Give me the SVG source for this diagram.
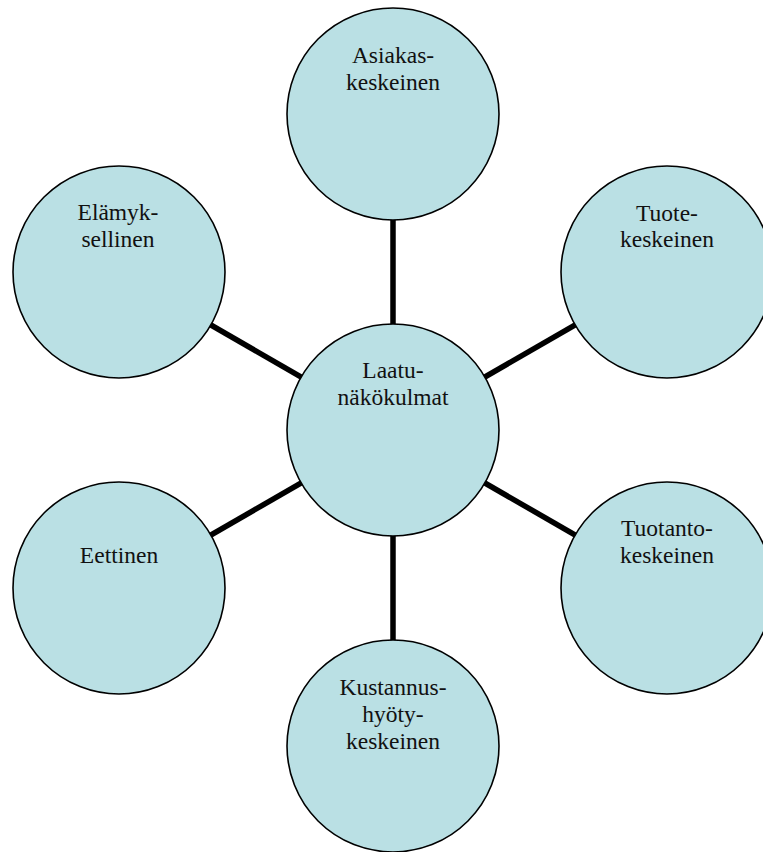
<svg xmlns="http://www.w3.org/2000/svg" width="763" height="852" viewBox="0 0 763 852">
<style>
.n circle{fill:#BAE0E4;stroke:#000;stroke-width:1.6}
.n text{font-family:"Liberation Serif","Times New Roman",serif;font-size:23.5px;fill:#111;text-anchor:middle}
.c line{stroke:#000;stroke-width:5.5}
</style>
<rect width="763" height="852" fill="#fff"/>
<g id="connectors" class="c">
<line x1="393" y1="430" x2="393" y2="114"/>
<line x1="393" y1="430" x2="667" y2="272"/>
<line x1="393" y1="430" x2="667" y2="588"/>
<line x1="393" y1="430" x2="393" y2="746"/>
<line x1="393" y1="430" x2="119" y2="588"/>
<line x1="393" y1="430" x2="119" y2="272"/>
</g>
<g id="center" class="n"><circle cx="393" cy="430" r="106"/><text x="393" y="378">Laatu-</text><text x="393" y="405">näkökulmat</text></g>
<g id="asiakas" class="n"><circle cx="393" cy="114" r="106"/><text x="393" y="63">Asiakas-</text><text x="393" y="90">keskeinen</text></g>
<g id="tuote" class="n"><circle cx="667" cy="272" r="106"/><text x="667" y="221">Tuote-</text><text x="667" y="247">keskeinen</text></g>
<g id="tuotanto" class="n"><circle cx="667" cy="588" r="106"/><text x="667" y="536">Tuotanto-</text><text x="667" y="563">keskeinen</text></g>
<g id="kustannus" class="n"><circle cx="393" cy="746" r="106"/><text x="393" y="695">Kustannus-</text><text x="393" y="722">hyöty-</text><text x="393" y="749">keskeinen</text></g>
<g id="eettinen" class="n"><circle cx="119" cy="588" r="106"/><text x="119" y="563">Eettinen</text></g>
<g id="elamyk" class="n"><circle cx="119" cy="272" r="106"/><text x="118" y="220">Elämyk-</text><text x="118" y="247">sellinen</text></g>
</svg>
